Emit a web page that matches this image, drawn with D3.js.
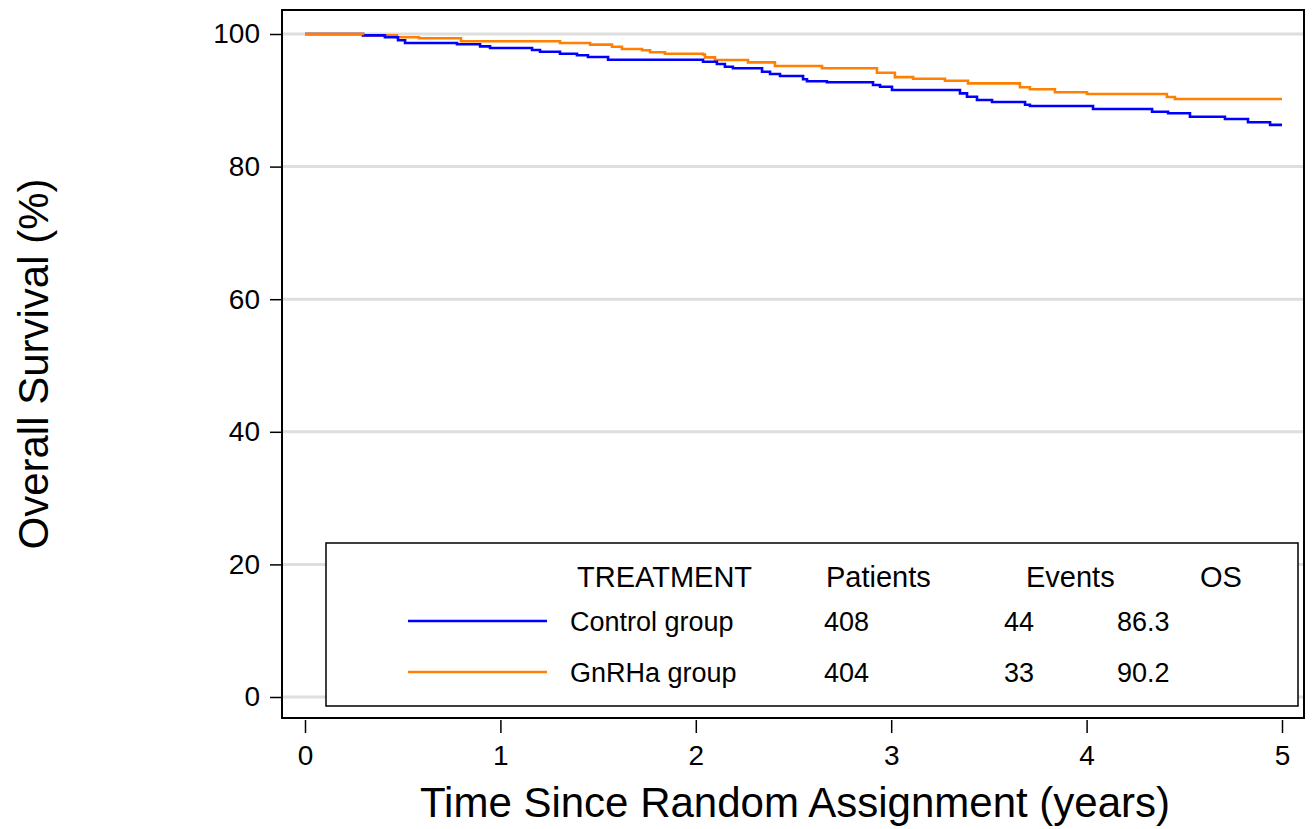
<!DOCTYPE html>
<html>
<head>
<meta charset="utf-8">
<script src="https://cdn.jsdelivr.net/npm/d3@7"></script>
<style>
body { margin: 0; background: #fff; }
svg text { font-family: "Liberation Sans", Arial, sans-serif; fill: #000; }
</style>
</head>
<body>
<svg id="chart" width="1312" height="829"></svg>
<script>
// KM step data (time in years, survival %)
var control_t = [0, 0.297, 0.409, 0.476, 0.512, 0.778, 0.896, 0.947, 1.162, 1.203, 1.305, 1.392, 1.448, 1.551, 2.037, 2.108, 2.149, 2.190, 2.339, 2.380, 2.431, 2.549, 2.569, 2.671, 2.907, 2.943, 3.004, 3.352, 3.388, 3.439, 3.516, 3.685, 3.710, 4.033, 4.335, 4.417, 4.529, 4.708, 4.826, 4.939, 5];
var control_s = [100, 99.80, 99.50, 99.05, 98.64, 98.45, 98.14, 97.89, 97.59, 97.33, 97.03, 96.79, 96.53, 96.12, 95.82, 95.48, 95.07, 94.83, 94.31, 93.97, 93.67, 93.17, 92.87, 92.72, 92.31, 92.05, 91.55, 91.05, 90.54, 90.05, 89.74, 89.34, 89.14, 88.69, 88.28, 88.04, 87.53, 87.18, 86.68, 86.3, 86.3];
var gnrha_t = [0, 0.297, 0.471, 0.583, 0.798, 1.305, 1.459, 1.571, 1.622, 1.725, 1.766, 1.842, 2.037, 2.047, 2.098, 2.267, 2.405, 2.646, 2.927, 3.019, 3.112, 3.275, 3.393, 3.659, 3.710, 3.838, 4.002, 4.411, 4.452, 5];
var gnrha_s = [100, 99.80, 99.50, 99.35, 98.90, 98.64, 98.39, 98.08, 97.74, 97.54, 97.24, 97.03, 96.91, 96.48, 96.08, 95.72, 95.17, 94.83, 94.16, 93.50, 93.26, 92.96, 92.56, 91.96, 91.66, 91.21, 90.95, 90.50, 90.2, 90.2];

var y_ticks = [0, 20, 40, 60, 80, 100];
var x_ticks = [0, 1, 2, 3, 4, 5];

var legend_header = ['TREATMENT', 'Patients', 'Events', 'OS'];
var group_names = ['Control group', 'GnRHa group'];
var group_patients = ['408', '404'];
var group_events = ['44', '33'];
var group_os = ['86.3', '90.2'];
var group_colors = ['#0000ff', '#ff8000'];

var svg = d3.select('#chart');
var frame_left = 282, frame_right = 1304, frame_top = 10, frame_bottom = 718;

var x = d3.scaleLinear().domain([0, 5]).range([305, 1282]);
var y = d3.scaleLinear().domain([0, 100]).range([697, 34]);

// grid lines
svg.append('g').selectAll('line')
	.data(y_ticks)
	.enter().append('line')
	.attr('x1', frame_left).attr('x2', frame_right)
	.attr('y1', function(d) { return y(d); })
	.attr('y2', function(d) { return y(d); })
	.attr('stroke', '#dedede')
	.attr('stroke-width', 3);

// curves
var line = d3.line()
	.x(function(d) { return x(d[0]); })
	.y(function(d) { return y(d[1]); })
	.curve(d3.curveStepAfter);

var series = [d3.zip(control_t, control_s), d3.zip(gnrha_t, gnrha_s)];
svg.append('path').datum(series[1])
	.attr('d', line).attr('fill', 'none')
	.attr('stroke', group_colors[1]).attr('stroke-width', 2.6);
svg.append('path').datum(series[0])
	.attr('d', line).attr('fill', 'none')
	.attr('stroke', group_colors[0]).attr('stroke-width', 2.6);
// the orange one sits on top where they share the first steps
svg.append('path').datum(series[1].slice(0, 2))
	.attr('d', line).attr('fill', 'none')
	.attr('stroke', group_colors[1]).attr('stroke-width', 2.6);

// frame
svg.append('rect')
	.attr('x', frame_left).attr('y', frame_top)
	.attr('width', frame_right - frame_left)
	.attr('height', frame_bottom - frame_top)
	.attr('fill', 'none').attr('stroke', '#000').attr('stroke-width', 2);

// axes
var y_axis = svg.append('g')
	.attr('transform', 'translate(' + frame_left + ',0)')
	.call(d3.axisLeft(y).tickValues(y_ticks).tickSize(12).tickPadding(10));
var x_axis = svg.append('g')
	.attr('transform', 'translate(0,' + (frame_bottom + 2) + ')')
	.call(d3.axisBottom(x).tickValues(x_ticks).tickFormat(d3.format('d')).tickSize(13).tickPadding(12));
[y_axis, x_axis].forEach(function(a) {
	a.select('.domain').remove();
	a.selectAll('line').attr('stroke', '#000').attr('stroke-width', 1.5);
	a.selectAll('text').style('font-family', '"Liberation Sans", Arial, sans-serif').style('font-size', '28px').attr('fill', '#000');
});

// axis titles
svg.append('text')
	.attr('x', 795).attr('y', 817)
	.attr('text-anchor', 'middle')
	.style('font-size', '42px')
	.text('Time Since Random Assignment (years)');
svg.append('text')
	.attr('transform', 'translate(48,364) rotate(-90)')
	.attr('text-anchor', 'middle')
	.style('font-size', '42px')
	.text('Overall Survival (%)');

// legend
var legend = svg.append('g');
legend.append('rect')
	.attr('x', 326).attr('y', 543).attr('width', 972).attr('height', 163)
	.attr('fill', '#fff').attr('stroke', '#000').attr('stroke-width', 1.5);
var header_x = [577, 826, 1026, 1200];
legend.selectAll('.hdr').data(legend_header).enter().append('text')
	.attr('class', 'hdr')
	.attr('x', function(d, i) { return header_x[i]; })
	.attr('y', 587)
	.style('font-size', '29px')
	.text(function(d) { return d; });
var row_y = [621, 672];
var cols = [[570, group_names], [824, group_patients], [1004, group_events], [1117, group_os]];
group_names.forEach(function(g, i) {
	legend.append('line')
		.attr('x1', 408).attr('x2', 547)
		.attr('y1', row_y[i]).attr('y2', row_y[i])
		.attr('stroke', group_colors[i]).attr('stroke-width', 2.6);
	cols.forEach(function(c) {
		legend.append('text')
			.attr('x', c[0]).attr('y', row_y[i] + 10)
			.style('font-size', '27px')
			.text(c[1][i]);
	});
});
</script>
</body>
</html>
